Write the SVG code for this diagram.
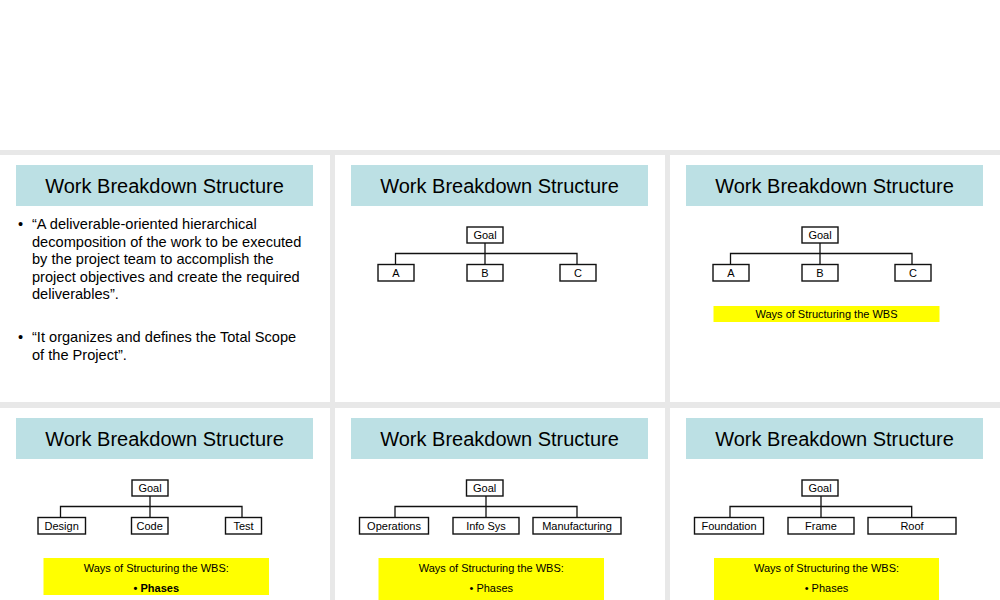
<svg xmlns="http://www.w3.org/2000/svg" width="1000" height="600" viewBox="0 0 1000 600">
<style>
text{font-family:"Liberation Sans",Arial,sans-serif;fill:#000}
.panel{fill:#fff}
.tbar{fill:#bce0e4}
.title{font-size:20px;text-anchor:middle}
.body{font-size:14.6px}
.box{fill:#fff;stroke:#111;stroke-width:1.4}
.lbl{font-size:11px;text-anchor:middle}
.conn{fill:none;stroke:#111;stroke-width:1.3}
.yel{fill:#ffff00}
.ytxt{font-size:11px;text-anchor:middle}
</style>
<rect x="0" y="0" width="1000" height="600" fill="#fff"/>
<rect x="0" y="150" width="1000" height="450" fill="#e8e8e8"/>

<!-- Panel 1 -->
<g id="panel1">
<rect class="panel" x="0" y="155" width="330" height="247"/>
<rect class="tbar" x="16" y="165" width="297" height="41"/>
<text class="title" x="164.5" y="193">Work Breakdown Structure</text>
<text class="body" x="18" y="229">•</text>
<text class="body" x="32" y="229">“A deliverable-oriented hierarchical</text>
<text class="body" x="32" y="246.5">decomposition of the work to be executed</text>
<text class="body" x="32" y="264">by the project team to accomplish the</text>
<text class="body" x="32" y="281.5">project objectives and create the required</text>
<text class="body" x="32" y="299">deliverables”.</text>
<text class="body" x="18" y="342">•</text>
<text class="body" x="32" y="342">“It organizes and defines the Total Scope</text>
<text class="body" x="32" y="359.5">of the Project”.</text>
</g>

<!-- Panel 2 -->
<g id="panel2" transform="translate(335,155)">
<rect class="panel" x="0" y="0" width="330" height="247"/>
<rect class="tbar" x="16" y="10" width="297" height="41"/>
<text class="title" x="164.5" y="38">Work Breakdown Structure</text>
<g id="p2-connectors">
<path class="conn" d="M150 88V109.5M60.5 109.5V98.5H242V109.5"/>
</g>
<g id="p2-goal"><rect class="box" x="132" y="72" width="36" height="16"/><text class="lbl" x="150" y="84">Goal</text></g>
<g id="p2-a"><rect class="box" x="43" y="109.5" width="36" height="16.5"/><text class="lbl" x="61" y="121.7">A</text></g>
<g id="p2-b"><rect class="box" x="132" y="109.5" width="36" height="16.5"/><text class="lbl" x="150" y="121.7">B</text></g>
<g id="p2-c"><rect class="box" x="225" y="109.5" width="36" height="16.5"/><text class="lbl" x="243" y="121.7">C</text></g>
</g>

<!-- Panel 3 -->
<g id="panel3" transform="translate(670,155)">
<rect class="panel" x="0" y="0" width="330" height="247"/>
<rect class="tbar" x="16" y="10" width="297" height="41"/>
<text class="title" x="164.5" y="38">Work Breakdown Structure</text>
<g id="p3-connectors">
<path class="conn" d="M150 88V109.5M60.5 109.5V98.5H242V109.5"/>
</g>
<g id="p3-goal"><rect class="box" x="132" y="72" width="36" height="16"/><text class="lbl" x="150" y="84">Goal</text></g>
<g id="p3-a"><rect class="box" x="43" y="109.5" width="36" height="16.5"/><text class="lbl" x="61" y="121.7">A</text></g>
<g id="p3-b"><rect class="box" x="132" y="109.5" width="36" height="16.5"/><text class="lbl" x="150" y="121.7">B</text></g>
<g id="p3-c"><rect class="box" x="225" y="109.5" width="36" height="16.5"/><text class="lbl" x="243" y="121.7">C</text></g>
<g id="p3-note"><rect class="yel" x="43.5" y="151" width="226" height="16"/><text class="ytxt" x="156.5" y="163">Ways of Structuring the WBS</text></g>
</g>

<!-- Panel 4 -->
<g id="panel4" transform="translate(0,408)">
<rect class="panel" x="0" y="0" width="330" height="192"/>
<rect class="tbar" x="16" y="10" width="297" height="41"/>
<text class="title" x="164.5" y="38">Work Breakdown Structure</text>
<g id="p4-connectors">
<path class="conn" d="M150 88V109.5M60.5 109.5V98.5H242V109.5"/>
</g>
<g id="p4-goal"><rect class="box" x="132" y="72" width="36" height="16"/><text class="lbl" x="150" y="84">Goal</text></g>
<g id="p4-design"><rect class="box" x="38" y="109.5" width="47.5" height="16.5"/><text class="lbl" x="61.7" y="121.7">Design</text></g>
<g id="p4-code"><rect class="box" x="131.5" y="109.5" width="36.5" height="16.5"/><text class="lbl" x="149.7" y="121.7">Code</text></g>
<g id="p4-test"><rect class="box" x="225.5" y="109.5" width="36" height="16.5"/><text class="lbl" x="243.5" y="121.7">Test</text></g>
<g id="p4-note"><rect class="yel" x="43.5" y="150" width="225.5" height="37"/><text class="ytxt" x="156.3" y="163.5">Ways of Structuring the WBS:</text><text class="ytxt" x="156.3" y="183.5" font-weight="bold">• Phases</text></g>
</g>

<!-- Panel 5 -->
<g id="panel5" transform="translate(335,408)">
<rect class="panel" x="0" y="0" width="330" height="192"/>
<rect class="tbar" x="16" y="10" width="297" height="41"/>
<text class="title" x="164.5" y="38">Work Breakdown Structure</text>
<g id="p5-connectors">
<path class="conn" d="M151 88V109.5M60 109.5V98.5H242V109.5"/>
</g>
<g id="p5-goal"><rect class="box" x="131.5" y="72" width="36.5" height="16"/><text class="lbl" x="149.7" y="84">Goal</text></g>
<g id="p5-ops"><rect class="box" x="24.5" y="109.5" width="69" height="16.5"/><text class="lbl" x="59" y="121.7">Operations</text></g>
<g id="p5-info"><rect class="box" x="118" y="109.5" width="66" height="16.5"/><text class="lbl" x="151" y="121.7">Info Sys</text></g>
<g id="p5-mfg"><rect class="box" x="198" y="109.5" width="88" height="16.5"/><text class="lbl" x="242" y="121.7">Manufacturing</text></g>
<g id="p5-note"><rect class="yel" x="43.5" y="150" width="225.5" height="42"/><text class="ytxt" x="156.3" y="163.5">Ways of Structuring the WBS:</text><text class="ytxt" x="156.3" y="183.5">• Phases</text></g>
</g>

<!-- Panel 6 -->
<g id="panel6" transform="translate(670,408)">
<rect class="panel" x="0" y="0" width="330" height="192"/>
<rect class="tbar" x="16" y="10" width="297" height="41"/>
<text class="title" x="164.5" y="38">Work Breakdown Structure</text>
<g id="p6-connectors">
<path class="conn" d="M151 88V109.5M60 109.5V98.5H241.7V109.5"/>
</g>
<g id="p6-goal"><rect class="box" x="132" y="72" width="36" height="16"/><text class="lbl" x="150" y="84">Goal</text></g>
<g id="p6-found"><rect class="box" x="24.5" y="109.5" width="69" height="16.5"/><text class="lbl" x="59" y="121.7">Foundation</text></g>
<g id="p6-frame"><rect class="box" x="118" y="109.5" width="66" height="16.5"/><text class="lbl" x="151" y="121.7">Frame</text></g>
<g id="p6-roof"><rect class="box" x="198" y="109.5" width="88" height="16.5"/><text class="lbl" x="242" y="121.7">Roof</text></g>
<g id="p6-note"><rect class="yel" x="44" y="150" width="225" height="42"/><text class="ytxt" x="156.5" y="163.5">Ways of Structuring the WBS:</text><text class="ytxt" x="156.5" y="183.5">• Phases</text></g>
</g>
</svg>
